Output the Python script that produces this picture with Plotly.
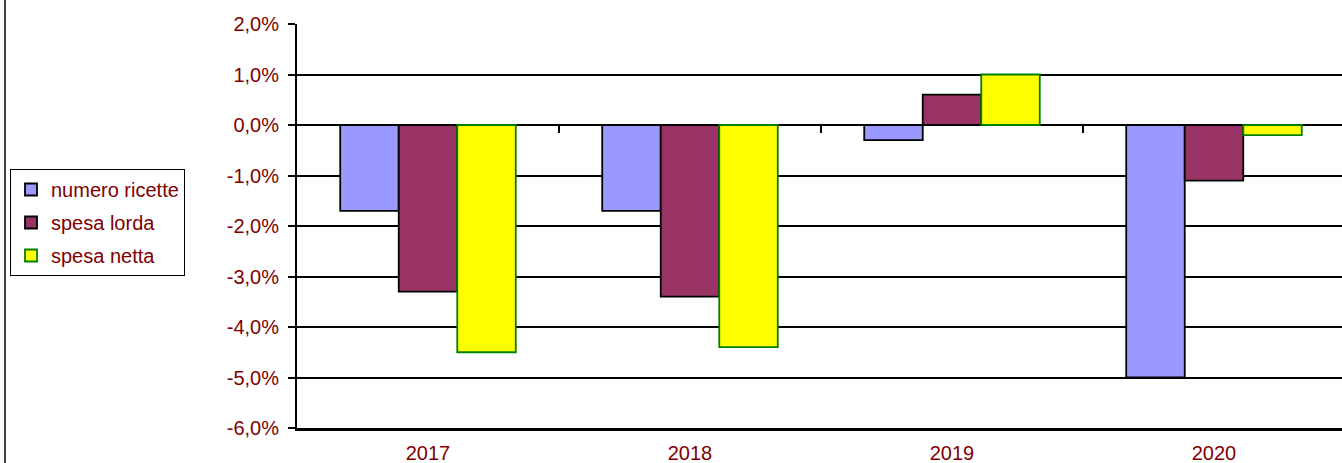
import plotly.graph_objects as go

years = ["2017", "2018", "2019", "2020"]
numero_ricette = [-1.7, -1.7, -0.3, -5.0]
spesa_lorda = [-3.3, -3.4, 0.6, -1.1]
spesa_netta = [-4.5, -4.4, 1.0, -0.2]
y_ticks = [2, 1, 0, -1, -2, -3, -4, -5, -6]

W, H = 1342, 463
L, R, T, B = 297, 0, 24, 35
plot_w = W - L - R
plot_h = H - T - B
cat_px = 262.0
x_range = [-0.5, -0.5 + plot_w / cat_px]
y_min, y_max = -6, 2

txt = "#800000"
fam = "Liberation Sans, Arial, sans-serif"
font = dict(family=fam, size=20, color=txt)

def pct(v):
    return ("%.1f%%" % v).replace(".", ",")

def px_x(page_x):
    return (page_x - L) / plot_w

def px_y(page_y):
    return (H - B - page_y) / plot_h

fig = go.Figure()
fig.add_trace(go.Bar(name="numero ricette", legendgroup="a", x=years, y=numero_ricette,
                     marker=dict(color="#9999FF", line=dict(color="#000000", width=1.8))))
fig.add_trace(go.Bar(name="spesa lorda", legendgroup="b", x=years, y=spesa_lorda,
                     marker=dict(color="#993366", line=dict(color="#000000", width=1.8))))
fig.add_trace(go.Bar(name="spesa netta", legendgroup="c", x=years, y=spesa_netta,
                     marker=dict(color="#FFFF00", line=dict(color="#008000", width=1.8))))
# helper trace for category tick marks on zero line
fig.add_trace(go.Scatter(x=[0], y=[0], xaxis="x2", mode="markers",
                         marker=dict(opacity=0), showlegend=False, hoverinfo="skip"))

fig.update_layout(
    width=W, height=H,
    margin=dict(l=L, r=R, t=T, b=B, autoexpand=False),
    paper_bgcolor="white", plot_bgcolor="white",
    font=font,
    barmode="group", bargap=0.33, bargroupgap=0,
    showlegend=True,
    legend=dict(
        x=px_x(10), xanchor="left",
        y=px_y(169), yanchor="top",
        bgcolor="white", bordercolor="#000000", borderwidth=1,
        font=dict(family=fam, size=20, color=txt),
        tracegroupgap=4,
    ),
    xaxis=dict(
        type="category", range=x_range, automargin=False,
        showline=True, linecolor="#000000", linewidth=2.5,
        ticks="", showgrid=False, zeroline=False,
        tickfont=font, ticklabelstandoff=5,
    ),
    xaxis2=dict(
        overlaying="x", anchor="free", automargin=False,
        position=(0 - y_min) / (y_max - y_min),
        range=x_range, tickvals=[0.5, 1.5, 2.5, 3.5],
        ticks="outside", ticklen=7, tickwidth=2, tickcolor="#000000",
        showticklabels=False, showgrid=False, showline=False, zeroline=False,
    ),
    yaxis=dict(
        range=[y_min, y_max], automargin=False,
        tickvals=y_ticks, ticktext=[pct(v) for v in y_ticks],
        showgrid=True, gridcolor="#000000", gridwidth=1.5,
        showline=True, linecolor="#000000", linewidth=2,
        ticks="outside", ticklen=7, tickwidth=1.5, tickcolor="#000000",
        zeroline=False, tickfont=font, ticklabelstandoff=5,
    ),
    shapes=[dict(type="line", xref="paper", yref="paper",
                 x0=px_x(5), x1=px_x(5),
                 y0=-0.2, y1=1.2, line=dict(color="#000000", width=1.5))],
)

fig.write_html(
    "out.html",
    config={"displayModeBar": False},
    post_script="document.body.style.margin='0';document.body.style.overflow='hidden';",
)
